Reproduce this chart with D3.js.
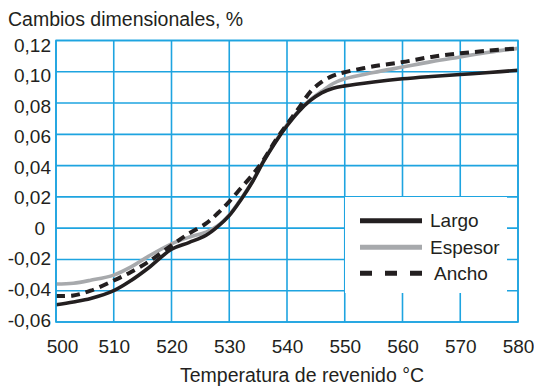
<!DOCTYPE html>
<html>
<head>
<meta charset="utf-8">
<script src="https://cdn.jsdelivr.net/npm/d3@7"></script>
<style>
  html, body { margin: 0; padding: 0; background: #fff; }
  svg { display: block; font-family: "Liberation Sans", Arial, Helvetica, sans-serif; }
</style>
</head>
<body>
<svg id="chart" width="534" height="388"></svg>
<script>
// Tempering temperature, °C
const temperatures = [500, 503, 506, 510, 513, 516, 520, 523, 526, 528, 530, 532, 534, 536, 538, 540, 542, 544, 546, 548, 550, 555, 560, 565, 570, 575, 580];

// Dimensional change, %
const largo = [-0.0490, -0.0472, -0.0450, -0.0400, -0.0335, -0.0255, -0.0135, -0.0092, -0.0045, 0.0010, 0.0080, 0.0180, 0.0295, 0.0430, 0.0550, 0.0655, 0.0745, 0.0815, 0.0865, 0.0895, 0.0910, 0.0935, 0.0955, 0.0970, 0.0983, 0.0995, 0.1010];
const espesor = [-0.0357, -0.0352, -0.0333, -0.0300, -0.0248, -0.0180, -0.0100, -0.0058, -0.0025, 0.0015, 0.0085, 0.0185, 0.0300, 0.0435, 0.0555, 0.0660, 0.0750, 0.0820, 0.0875, 0.0925, 0.0955, 0.0995, 0.1030, 0.1065, 0.1095, 0.1125, 0.1150];
const ancho = [-0.0433, -0.0430, -0.0400, -0.0335, -0.0280, -0.0215, -0.0110, -0.0035, 0.0030, 0.0095, 0.0170, 0.0255, 0.0340, 0.0440, 0.0560, 0.0665, 0.0765, 0.0870, 0.0935, 0.0975, 0.0997, 0.1035, 0.1062, 0.1095, 0.1118, 0.1135, 0.1150];

const xTicks = [500, 510, 520, 530, 540, 550, 560, 570, 580];
const yTicks = [-0.06, -0.04, -0.02, 0, 0.02, 0.04, 0.06, 0.08, 0.10, 0.12];

const seriesNames = ["Largo", "Espesor", "Ancho"];

const svg = d3.select("#chart");
const plot = { left: 56, right: 518, top: 40.5, bottom: 322 };
const gridColor = "#1ea4e0";
const textColor = "#231f20";

const x = d3.scaleLinear().domain([500, 580]).range([plot.left, plot.right]);
const y = d3.scaleLinear().domain([-0.06, 0.12]).range([plot.bottom, plot.top]);
// tick labels sit on a slightly tighter, evenly spaced column
const yLabel = d3.scaleLinear().domain([-0.06, 0.12]).range([320, 45]);

const fmt = v => v === 0 ? "0" : d3.format(".2f")(v).replace(".", ",").replace("−", "-");

// grid
const grid = svg.append("g");
grid.selectAll("line.v").data(xTicks).join("line")
  .attr("x1", d => x(d)).attr("x2", d => x(d))
  .attr("y1", plot.top).attr("y2", plot.bottom)
  .attr("stroke", gridColor).attr("stroke-width", 1.6);
grid.selectAll("line.h").data(yTicks).join("line")
  .attr("x1", plot.left).attr("x2", plot.right)
  .attr("y1", d => y(d)).attr("y2", d => y(d))
  .attr("stroke", gridColor).attr("stroke-width", 1.6);

// legend panel covers the grid beneath it
svg.append("rect")
  .attr("x", 345).attr("y", 197).attr("width", 162).attr("height", 96)
  .attr("fill", "#fff");

// y axis labels
const yAxis = d3.axisLeft(yLabel).tickValues(yTicks).tickFormat(fmt).tickSize(0).tickPadding(0);
const yg = svg.append("g").attr("transform", `translate(${plot.left - 5},0)`).call(yAxis);
yg.select(".domain").remove();
yg.selectAll("text").attr("font-size", 19).attr("fill", textColor)
  .attr("font-family", "'Liberation Sans', Arial, sans-serif")
  .attr("dx", d => d === 0 ? -6 : 0);

// x axis labels
const xAxis = d3.axisBottom(x).tickValues(xTicks).tickFormat(d3.format("d")).tickSize(0).tickPadding(0);
const xg = svg.append("g").attr("transform", `translate(0,${plot.bottom})`).call(xAxis);
xg.select(".domain").remove();
xg.selectAll("text").attr("font-size", 19).attr("fill", textColor).attr("dy", null).attr("y", 31)
  .attr("dx", d => d === 500 ? 6 : 0)
  .attr("font-family", "'Liberation Sans', Arial, sans-serif");

// titles
svg.append("text").attr("x", 8).attr("y", 26)
  .attr("font-size", 19.5).attr("fill", textColor)
  .text("Cambios dimensionales, %");
svg.append("text").attr("x", 302).attr("y", 382).attr("text-anchor", "middle")
  .attr("font-size", 19.5).attr("fill", textColor)
  .text("Temperatura de revenido °C");

// curves
svg.append("clipPath").attr("id", "plotClip").append("rect")
  .attr("x", plot.left).attr("y", plot.top)
  .attr("width", plot.right - plot.left).attr("height", plot.bottom - plot.top);

const line = d3.line()
  .x(d => x(d[0])).y(d => y(d[1]))
  .curve(d3.curveCatmullRom.alpha(0.5));

const series = [
  { name: "Espesor", values: espesor, stroke: "#a7a9ac", width: 3.6, dash: null },
  { name: "Largo", values: largo, stroke: "#231f20", width: 3.6, dash: null },
  { name: "Ancho", values: ancho, stroke: "#231f20", width: 4, dash: "9,6" }
];

const curves = svg.append("g").attr("clip-path", "url(#plotClip)");
series.forEach(s => {
  curves.append("path")
    .datum(temperatures.map((t, i) => [t, s.values[i]]))
    .attr("d", line)
    .attr("fill", "none")
    .attr("stroke", s.stroke)
    .attr("stroke-width", s.width)
    .attr("stroke-dasharray", s.dash);
});

// plot frame
svg.append("rect")
  .attr("x", plot.left).attr("y", plot.top)
  .attr("width", plot.right - plot.left).attr("height", plot.bottom - plot.top)
  .attr("fill", "none").attr("stroke", gridColor).attr("stroke-width", 1.6);

// legend
const legendStyle = {
  Largo: { stroke: "#231f20", dash: null, textX: 430 },
  Espesor: { stroke: "#a7a9ac", dash: null, textX: 430 },
  Ancho: { stroke: "#231f20", dash: "12,13", textX: 434 }
};
const legendRows = [220.7, 247.3, 273.3];
const legend = svg.append("g");
seriesNames.forEach((name, i) => {
  const st = legendStyle[name];
  legend.append("line")
    .attr("x1", 360).attr("x2", 422)
    .attr("y1", legendRows[i]).attr("y2", legendRows[i])
    .attr("stroke", st.stroke).attr("stroke-width", 5)
    .attr("stroke-dasharray", st.dash);
  legend.append("text")
    .attr("x", st.textX).attr("y", legendRows[i] + 6.5)
    .attr("font-size", 19).attr("fill", textColor)
    .text(name);
});
</script>
</body>
</html>
